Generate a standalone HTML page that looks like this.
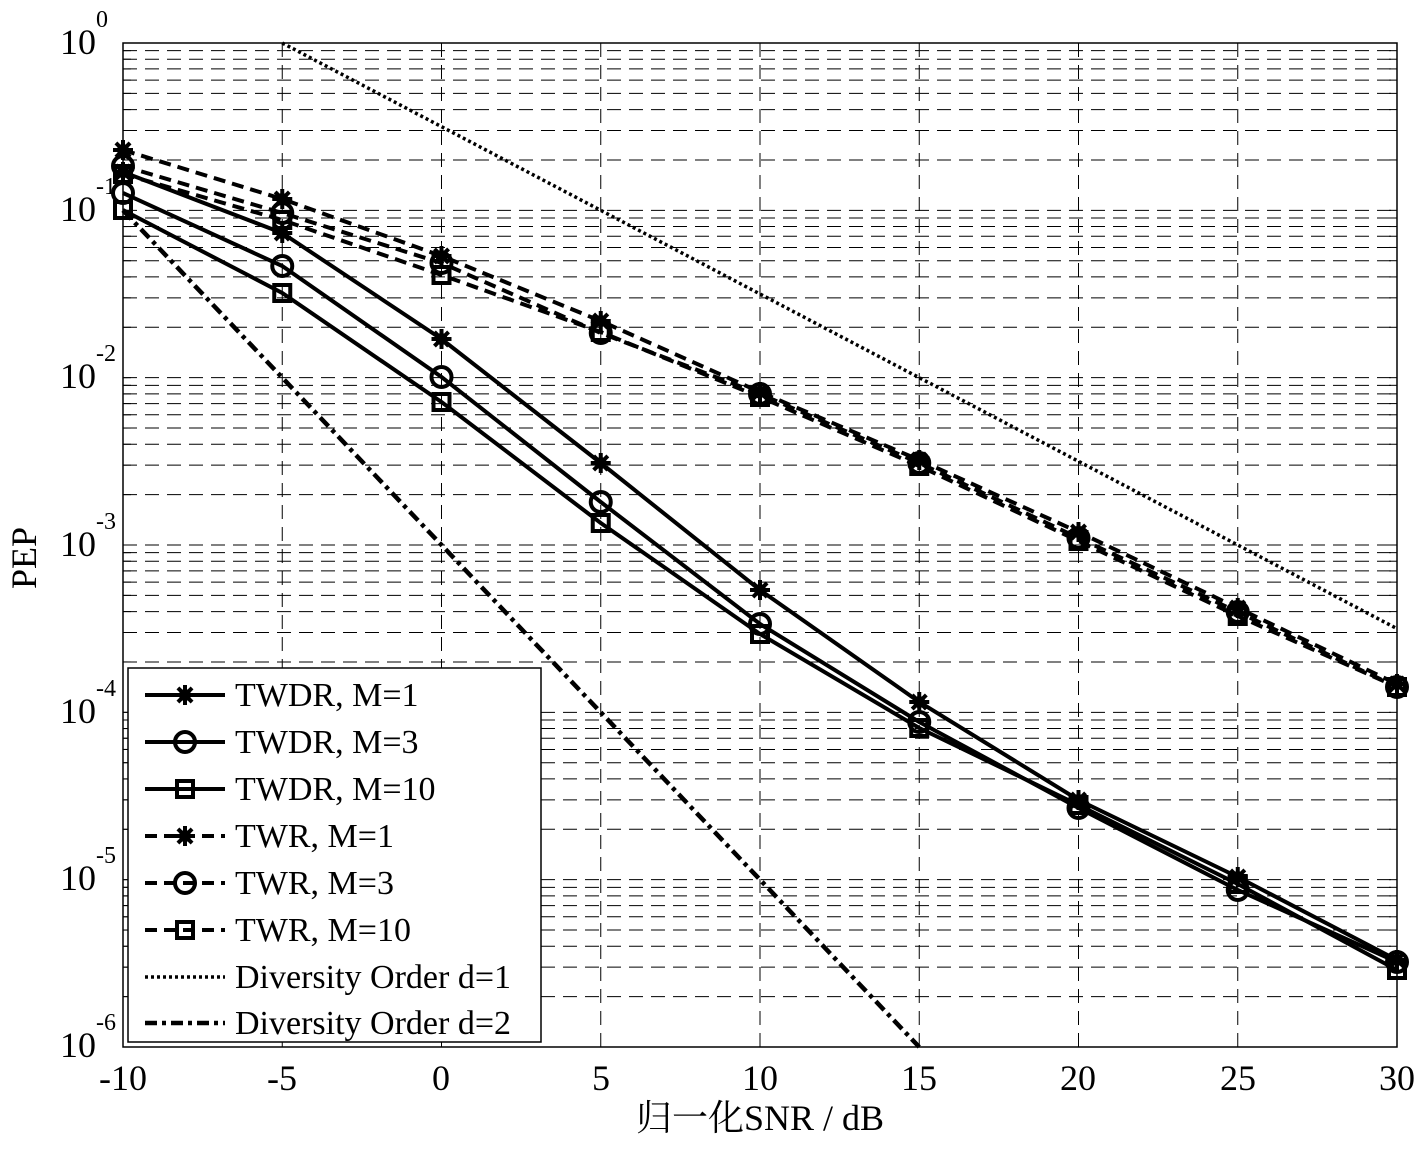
<!DOCTYPE html>
<html><head><meta charset="utf-8"><style>
body{margin:0;background:#fff}
svg{display:block}
text{font-family:"Liberation Serif","Noto Serif CJK SC","Noto Sans CJK SC",serif;fill:#000}
</style></head><body>
<svg id="s" width="1425" height="1149" viewBox="0 0 1425 1149" xmlns="http://www.w3.org/2000/svg">
<rect width="1425" height="1149" fill="#fff"/>
<g id="grid"></g>
<g id="series"></g>
<rect x="123" y="43" width="1274" height="1004" fill="none" stroke="#000" stroke-width="1.5"/>
<g id="legend">
<rect x="128" y="668" width="413" height="374" fill="#fff" stroke="#000" stroke-width="1.5"/>
</g>
<g font-size="36">
<text x="60" y="54">10</text><text x="96" y="27" font-size="24">0</text>
<text x="60" y="221">10</text><text x="96" y="194" font-size="24">-1</text>
<text x="60" y="388">10</text><text x="96" y="361" font-size="24">-2</text>
<text x="60" y="556">10</text><text x="96" y="529" font-size="24">-3</text>
<text x="60" y="723">10</text><text x="96" y="696" font-size="24">-4</text>
<text x="60" y="890">10</text><text x="96" y="863" font-size="24">-5</text>
<text x="60" y="1057">10</text><text x="96" y="1030" font-size="24">-6</text>
</g>
<g font-size="36" text-anchor="middle">
<text x="123" y="1090">-10</text>
<text x="282" y="1090">-5</text>
<text x="441" y="1090">0</text>
<text x="601" y="1090">5</text>
<text x="760" y="1090">10</text>
<text x="919" y="1090">15</text>
<text x="1078" y="1090">20</text>
<text x="1238" y="1090">25</text>
<text x="1397" y="1090">30</text>
<text x="760" y="1130">归一化SNR / dB</text>
<text x="0" y="0" transform="translate(36,558) rotate(-90)">PEP</text>
</g>
<g font-size="34">
<text x="235" y="706">TWDR, M=1</text>
<text x="235" y="753">TWDR, M=3</text>
<text x="235" y="800">TWDR, M=10</text>
<text x="235" y="847">TWR, M=1</text>
<text x="235" y="894">TWR, M=3</text>
<text x="235" y="941">TWR, M=10</text>
<text x="235" y="988">Diversity Order d=1</text>
<text x="235" y="1034">Diversity Order d=2</text>
</g>
</svg>
<script>
const NS="http://www.w3.org/2000/svg";
const L=123,R=1397,T=43,B=1047,D=(B-T)/6;
function X(db){return L+(db+10)*(R-L)/40}
function el(p,tag,a){const e=document.createElementNS(NS,tag);for(const k in a)e.setAttribute(k,a[k]);p.appendChild(e);return e}
const g=document.getElementById('grid');
for(let k=0;k<6;k++){for(let m=1;m<=9;m++){const y=T+D*k+D*(1-Math.log10(m));if(m==1&&k==5)continue;
el(g,'line',{x1:L,x2:R,y1:y,y2:y,stroke:'#000','stroke-width':1,'stroke-dasharray':'14,8'});
el(g,'line',{x1:L,x2:L+8,y1:y,y2:y,stroke:'#000','stroke-width':1});
el(g,'line',{x1:R-8,x2:R,y1:y,y2:y,stroke:'#000','stroke-width':1});}}
for(let d=-5;d<30;d+=5){const x=X(d);el(g,'line',{x1:x,x2:x,y1:T,y2:B,stroke:'#000','stroke-width':1,'stroke-dasharray':'14,8'})}
const s=document.getElementById('series');
const xs=[-10,-5,0,5,10,15,20,25,30].map(X);
const data=[
['star','solid',[172,233,339,463,590,702,800,877,960]],
['circ','solid',[193,266,377,502,624,722,808,890,962]],
['sq','solid',[210,293,402,523,634,728,805,884,970]],
['star','dash',[150,199,256,321,392,460,532,608,684]],
['circ','dash',[166,213,263,333,394,463,538,612,687]],
['sq','dash',[174,220,275,332,397,466,541,616,687]]];
function marker(p,t,x,y){
if(t=='circ')el(p,'circle',{cx:x,cy:y,r:10,fill:'none',stroke:'#000','stroke-width':4});
else if(t=='sq')el(p,'rect',{x:x-8,y:y-8,width:16,height:16,fill:'none',stroke:'#000','stroke-width':4});
else{for(let a=0;a<4;a++){const an=a*Math.PI/4;el(p,'line',{x1:x-10*Math.cos(an),y1:y-10*Math.sin(an),x2:x+10*Math.cos(an),y2:y+10*Math.sin(an),stroke:'#000','stroke-width':4})}el(p,'circle',{cx:x,cy:y,r:6,fill:'#000'})}}
data.forEach(([m,st,ys])=>{
el(s,'polyline',{points:xs.map((x,i)=>x+','+ys[i]).join(' '),fill:'none',stroke:'#000','stroke-width':4,'stroke-dasharray':st=='dash'?'12,7':'none'});
xs.forEach((x,i)=>marker(s,m,x,ys[i]));});
el(s,'line',{x1:X(-5),y1:T,x2:R,y2:T+3.5*D,stroke:'#000','stroke-width':3.5,'stroke-dasharray':'3,3'});
el(s,'line',{x1:X(-10),y1:T+D,x2:X(15),y2:B,stroke:'#000','stroke-width':4.5,'stroke-dasharray':'12,5,4,5'});
const lg=document.getElementById('legend');
const ly=[695,742,789,836,883,930,977,1023];
data.forEach(([m,st],i)=>{el(lg,'line',{x1:145,x2:225,y1:ly[i],y2:ly[i],stroke:'#000','stroke-width':4,'stroke-dasharray':st=='dash'?'12,7':'none'});marker(lg,m,185,ly[i]);});
el(lg,'line',{x1:145,x2:225,y1:ly[6],y2:ly[6],stroke:'#000','stroke-width':3.5,'stroke-dasharray':'3,3'});
el(lg,'line',{x1:145,x2:225,y1:ly[7],y2:ly[7],stroke:'#000','stroke-width':4.5,'stroke-dasharray':'12,5,4,5'});
</script>
</body></html>
